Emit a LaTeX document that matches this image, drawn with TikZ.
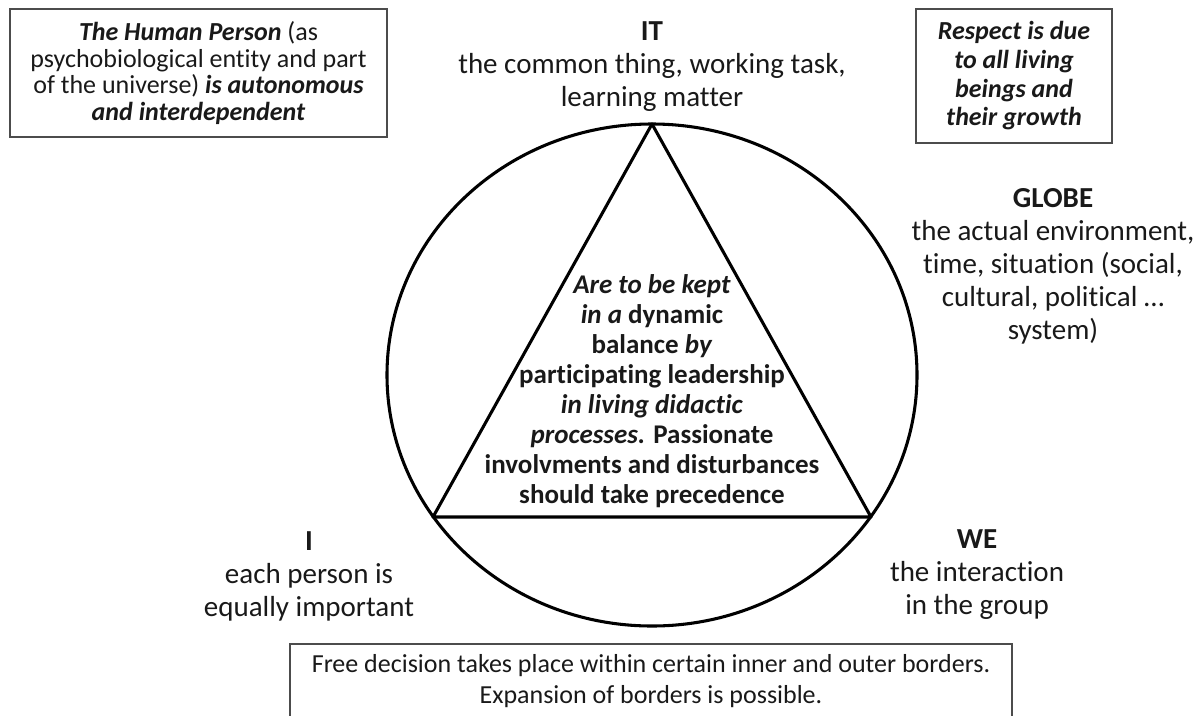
\documentclass[tikz,border=0pt]{standalone}
\usepackage{fontspec}
\setmainfont{Carlito}[Ligatures=NoCommon]

\tikzset{every picture/.style={line width=0.75pt}}
\tikzset{
  lbl/.style={align=center, inner sep=0.75pt, text=black!90, font=\fontsize{21.75pt}{24.75pt}\selectfont},
  notebox/.style={draw=black!70, line width=1.4pt, align=center, inner sep=0pt, text=black!90},
  thick line/.style={line width=2.3pt, line join=round}
}

\begin{document}
\begin{tikzpicture}[x=0.75pt,y=0.75pt,yscale=-1,xscale=1]
\useasboundingbox (0,0) rectangle (1202,715);
\clip (0,0) rectangle (1202,715);

\draw [thick line] (652,375) ellipse [x radius=265, y radius=251];
\coordinate (apex) at (652,124);
\coordinate (lcorner) at (433,517);
\coordinate (rcorner) at (871,517);
\draw [thick line] (apex) -- (lcorner) -- (rcorner) -- cycle;

\draw (652,391) node (balance) [lbl, font=\fontsize{20.25pt}{22.5pt}\selectfont\bfseries] {\textit{Are to be kept}\\ \textit{in a} dynamic\\ balance \textit{by}\\ participating leadership\\ \textit{in living didactic}\\ \textit{processes.} Passionate\\ involvments and disturbances\\ should take precedence};

\draw (652,66.7) node (it) [lbl] {\textbf{IT}\\ the common thing, working task,\\ learning matter};
\draw (1053,266) node (globe) [lbl] {\textbf{GLOBE}\\ the actual environment,\\ time, situation (social,\\ cultural, political \dots\\ system)};
\draw (309,576) node (i) [lbl] {\textbf{I}\\ each person is\\ equally important};
\draw (977,575) node (we) [lbl] {\textbf{WE}\\ the interaction\\ in the group};

\draw (198.5,73) node (person) [notebox, minimum width=282.75pt, minimum height=96pt, font=\fontsize{19.5pt}{20pt}\selectfont] {\textbf{\textit{The Human Person}} (as\\ psychobiological entity and part\\ of the universe) \textbf{\textit{is autonomous}}\\ \textbf{\textit{and interdependent}}};
\draw (1014,76) node (respect) [notebox, minimum width=147pt, minimum height=100.5pt, font=\fontsize{19.5pt}{21.5pt}\selectfont\bfseries\itshape] {Respect is due\\ to all living\\ beings and\\ their growth};
\draw (651,681.5) node (borders) [notebox, minimum width=541.5pt, minimum height=56.25pt, font=\fontsize{19.5pt}{23.25pt}\selectfont] {Free decision takes place within certain inner and outer borders.\\ Expansion of borders is possible.};

\end{tikzpicture}
\end{document}
